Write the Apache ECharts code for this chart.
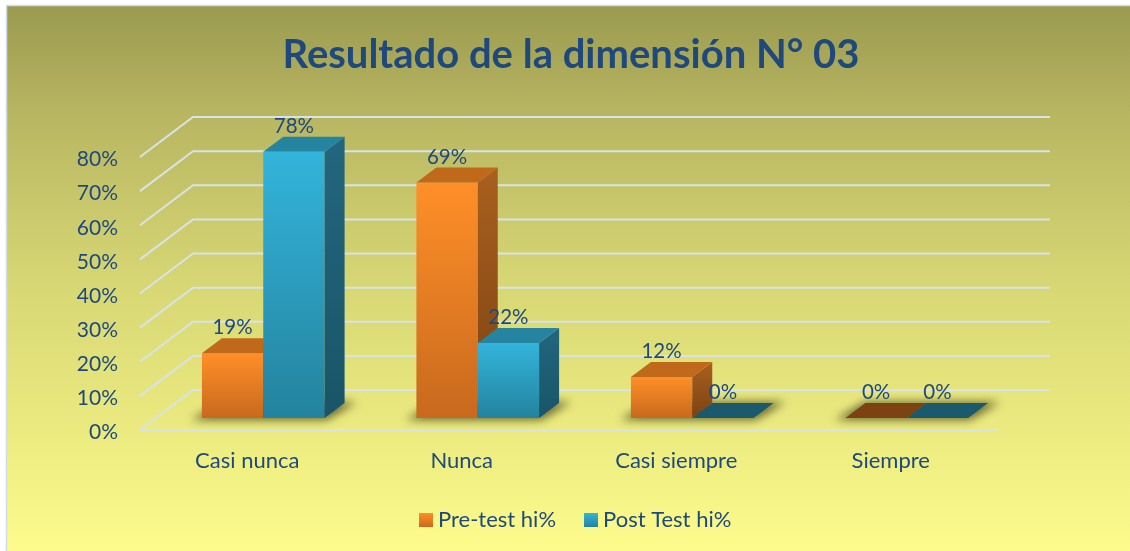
<!DOCTYPE html>
<html><head><meta charset="utf-8">
<style>html,body{margin:0;padding:0;background:#fff}#c{width:1130px;height:551px}</style>
<script src="https://cdn.jsdelivr.net/npm/echarts@6/dist/echarts.min.js"></script>
</head><body><div id="c"></div>
<script>
const titleText = 'Resultado de la dimensión N° 03';
const categories = ['Casi nunca', 'Nunca', 'Casi siempre', 'Siempre'];
const preTest = [19, 69, 12, 0];
const postTest = [78, 22, 0, 0];
const gridTicks = [0, 10, 20, 30, 40, 50, 60, 70, 80];
const seriesNames = ['Pre-test hi%', 'Post Test hi%'];

const grad = (a, b) => new echarts.graphic.LinearGradient(0, 0, 0, 1, [{offset: 0, color: a}, {offset: 1, color: b}]);
const BACK_X = 53, BACK_Y = -40;      // wall depth
const WALL_DY = -2.5;                 // front edge of the walls sits just above the axis labels' centres
const BAR_DX = 16, BAR_DY = -14.5;    // bars stand inside the floor
const DEPTH_X = 20, DEPTH_Y = -15;    // bar depth
const BAR_RATIO = 0.286;
const TEXT = '#1F497D';
const FONT = 'Lato';
const OFF = 3000;                     // shape is drawn off canvas, only its blurred shadow shows

const palette = [
  {front: ['#FF8F28', '#C8691E'], side: ['#A9601F', '#7C4212'], top: '#C0691A', flat: '#7C4212'},
  {front: ['#33B4DB', '#24839E'], side: ['#23667F', '#195567'], top: '#2585A1', flat: '#1A5A6C'}
];

function barRender(idx) {
  return function (params, api) {
    const v = api.value(1);
    const p0 = api.coord([api.value(0), 0]);
    const p1 = api.coord([api.value(0), v]);
    const w = api.size([1, 0])[0] * BAR_RATIO;
    const c = palette[idx];
    const x0 = p0[0] + BAR_DX + (idx === 0 ? -w : 0);
    const x1 = x0 + w;
    const yb = p0[1] + BAR_DY;
    const yt = p1[1] + BAR_DY;
    const children = [];
    if (v > 0) {
      children.push({type: 'rect', shape: {x: x0, y: yt, width: w, height: yb - yt}, style: {fill: grad(c.front[0], c.front[1])}});
      children.push({type: 'polygon', shape: {points: [[x1, yt], [x1 + DEPTH_X, yt + DEPTH_Y], [x1 + DEPTH_X, yb + DEPTH_Y], [x1, yb]]}, style: {fill: grad(c.side[0], c.side[1])}});
    }
    children.push({type: 'polygon', shape: {points: [[x0, yt], [x1, yt], [x1 + DEPTH_X, yt + DEPTH_Y], [x0 + DEPTH_X, yt + DEPTH_Y]]}, style: {fill: v > 0 ? c.top : c.flat}});
    children.push({type: 'text', style: {text: v + '%', x: (x0 + x1) / 2, y: yt - 25.5, align: 'center', verticalAlign: 'middle', fill: TEXT, font: '20.5px ' + FONT}});
    return {type: 'group', children};
  };
}

function shadowRender(params, api) {
  const p0 = api.coord([api.value(0), 0]);
  const w = api.size([1, 0])[0] * BAR_RATIO;
  const x0 = p0[0] + BAR_DX - w, x1 = p0[0] + BAR_DX + w;
  const yb = p0[1] + BAR_DY;
  const pts = [[x0 - 11, yb + 2], [x1 + 2, yb + 2], [x1 + DEPTH_X + 12, yb + DEPTH_Y - 1], [x0 + DEPTH_X, yb + DEPTH_Y - 1]];
  return {type: 'polygon', shape: {points: pts.map(q => [q[0] - OFF, q[1]])},
    style: {fill: '#000', shadowBlur: 10, shadowOffsetX: OFF, shadowColor: 'rgba(70,70,25,0.8)'}};
}

function wallRender(params, api) {
  const t = api.value(1);
  const p = api.coord([0, t]);
  const cs = params.coordSys;
  const L = cs.x, R = cs.x + cs.width, y = p[1] + WALL_DY;
  const line = {stroke: '#D8E3E8', lineWidth: 2, fill: null};
  const children = [{type: 'polyline', shape: {points: [[L, y], [L + BACK_X, y + BACK_Y], [R + BACK_X - 1, y + BACK_Y]]}, style: line}];
  if (t === 0) children.push({type: 'line', shape: {x1: L, y1: y, x2: R, y2: y}, style: line});
  return {type: 'group', children};
}

const chart = echarts.init(document.getElementById('c'), null, {renderer: 'canvas'});
chart.setOption({
  animation: false,
  backgroundColor: '#ffffff',
  graphic: [{type: 'rect', z: -10, silent: true, shape: {x: 6.5, y: 5.5, width: 1130, height: 550},
    style: {stroke: '#CFDDEA', lineWidth: 1.5, fill: new echarts.graphic.LinearGradient(0, 0, 0, 1, [
      {offset: 0, color: '#9A9A50'}, {offset: 0.2, color: '#B8B661'}, {offset: 0.5, color: '#D6D674'},
      {offset: 0.78, color: '#ECEB80'}, {offset: 1, color: '#FDFC8C'}])}}],
  title: {text: titleText, top: 30, textAlign: 'center', left: 566,
    textStyle: {color: TEXT, fontFamily: FONT, fontWeight: 'bold', fontSize: 40}},
  legend: {left: 414, top: 504, icon: 'rect', itemWidth: 14, itemHeight: 14, itemGap: 28, data: seriesNames,
    textStyle: {color: TEXT, fontFamily: FONT, fontSize: 22}},
  grid: {left: 140, right: 132, top: 159.5, bottom: 118.5},
  xAxis: {type: 'category', data: categories, axisLine: {show: false}, axisTick: {show: false}, splitLine: {show: false},
    axisLabel: {color: TEXT, fontFamily: FONT, fontSize: 22, margin: 17.5}},
  yAxis: {type: 'value', min: 0, max: 80, interval: 10, axisLine: {show: false}, axisTick: {show: false}, splitLine: {show: false},
    axisLabel: {color: TEXT, fontFamily: FONT, fontSize: 21, margin: 22, formatter: '{value}%'}},
  series: [
    {type: 'custom', name: 'walls', z: 1, clip: false, silent: true, renderItem: wallRender, data: gridTicks.map(t => [0, t]), encode: {x: 0, y: 1}},
    {type: 'custom', name: 'shadow', z: 2, clip: false, silent: true, renderItem: shadowRender, data: categories.map((c, i) => [i, 0]), encode: {x: 0, y: 1}},
    {type: 'custom', name: seriesNames[0], z: 3, clip: false, renderItem: barRender(0), itemStyle: {color: grad('#FF8F28', '#C8691E')},
      data: preTest.map((v, i) => [i, v]), encode: {x: 0, y: 1}},
    {type: 'custom', name: seriesNames[1], z: 4, clip: false, renderItem: barRender(1), itemStyle: {color: grad('#33B4DB', '#24839E')},
      data: postTest.map((v, i) => [i, v]), encode: {x: 0, y: 1}}
  ]
});
</script></body></html>
